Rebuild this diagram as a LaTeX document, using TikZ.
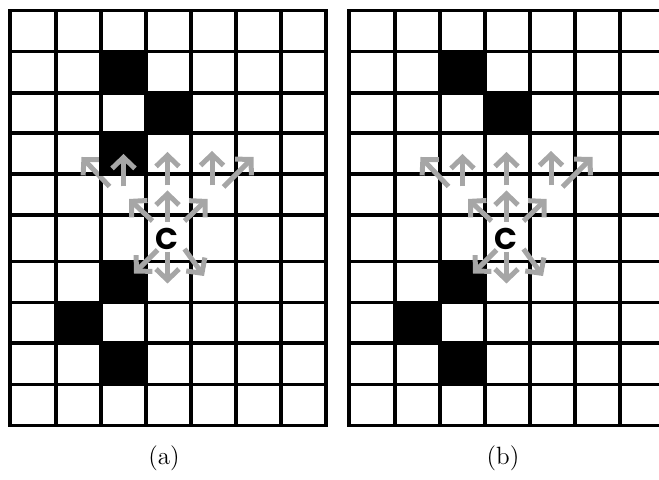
\documentclass[tikz,border=0pt]{standalone}
\usepackage{fontspec}
\usepackage{tikz}
\usetikzlibrary{arrows.meta}
\newfontfamily\cfont{Poppins}
\definecolor{movegray}{RGB}{166,166,166}

\begin{document}
\begin{tikzpicture}[x=0.5pt, y=-0.5pt,
    gridline/.style={line width=1.8pt, line cap=rect},
    blocked/.style={fill=black},
    move/.style={draw=movegray, line width=2.5pt,
      -{Straight Barb[length=5.5pt, width=11.5pt]}},
    centre/.style={font=\cfont\bfseries\fontsize{15}{15}\selectfont, inner sep=0pt},
    caption/.style={font=\fontsize{12.5}{15}\selectfont}]
  \useasboundingbox (0,0) rectangle (659,480);
  \clip (0,0) rectangle (659,480);
  % Two panels: same 7x10 occupancy grid, (b) shifted right and cut by the page edge.
  \foreach \p/\dx in {a/0, b/339} {
    \begin{scope}[shift={(\dx,0)}]
      % blocked cells
      \fill[blocked] (101,51.5) rectangle (146,93);
      \fill[blocked] (146,93) rectangle (191,133);
      \fill[blocked] (101,261.7) rectangle (146,302.5);
      \fill[blocked] (56,302.5) rectangle (101,343);
      \fill[blocked] (101,343) rectangle (146,384.5);
      % grid lines (row 5 is a little taller)
      \foreach \x in {10,56,101,146,191,236,281,326}
        \draw[gridline] (\x,10.7) -- (\x,425.7);
      \foreach \y in {10.7,51.5,93,133,174,215,261.7,302.5,343,384.5,425.7}
        \draw[gridline] (10,\y) -- (326,\y);
      % current cell and candidate moves
      \node[centre] (c\p) at (166.5,239) {C};
      \foreach \sx/\sy/\ex/\ey in {1/-17/1/-48.5, -14/-18/-37.5/-40,
          18/-18/41/-40, -9/11/-32.5/34.5, 1/13/1/44.5,
          18/10/37.5/37, -57/-52.5/-85/-82, -43/-52.5/-43/-85,
          1/-53.5/1/-87, 45.5/-53.5/45.5/-88, 57/-52/87/-82}
        \draw[move] ([shift={(\sx,\sy)}]c\p.center) -- ([shift={(\ex,\ey)}]c\p.center);
    \end{scope}
  }
  % extra blocked cell only in (a)
  \fill[blocked] (101,133) rectangle (146,174);
  \draw[gridline] (101,133) rectangle (146,174);
  \draw[move] ([shift={(-43,-52.5)}]ca.center) -- ([shift={(-43,-85)}]ca.center);
  \node[caption] (capa) at (164,458) {(a)};
  \node[caption] (capb) at (503,458) {(b)};
\end{tikzpicture}
\end{document}
